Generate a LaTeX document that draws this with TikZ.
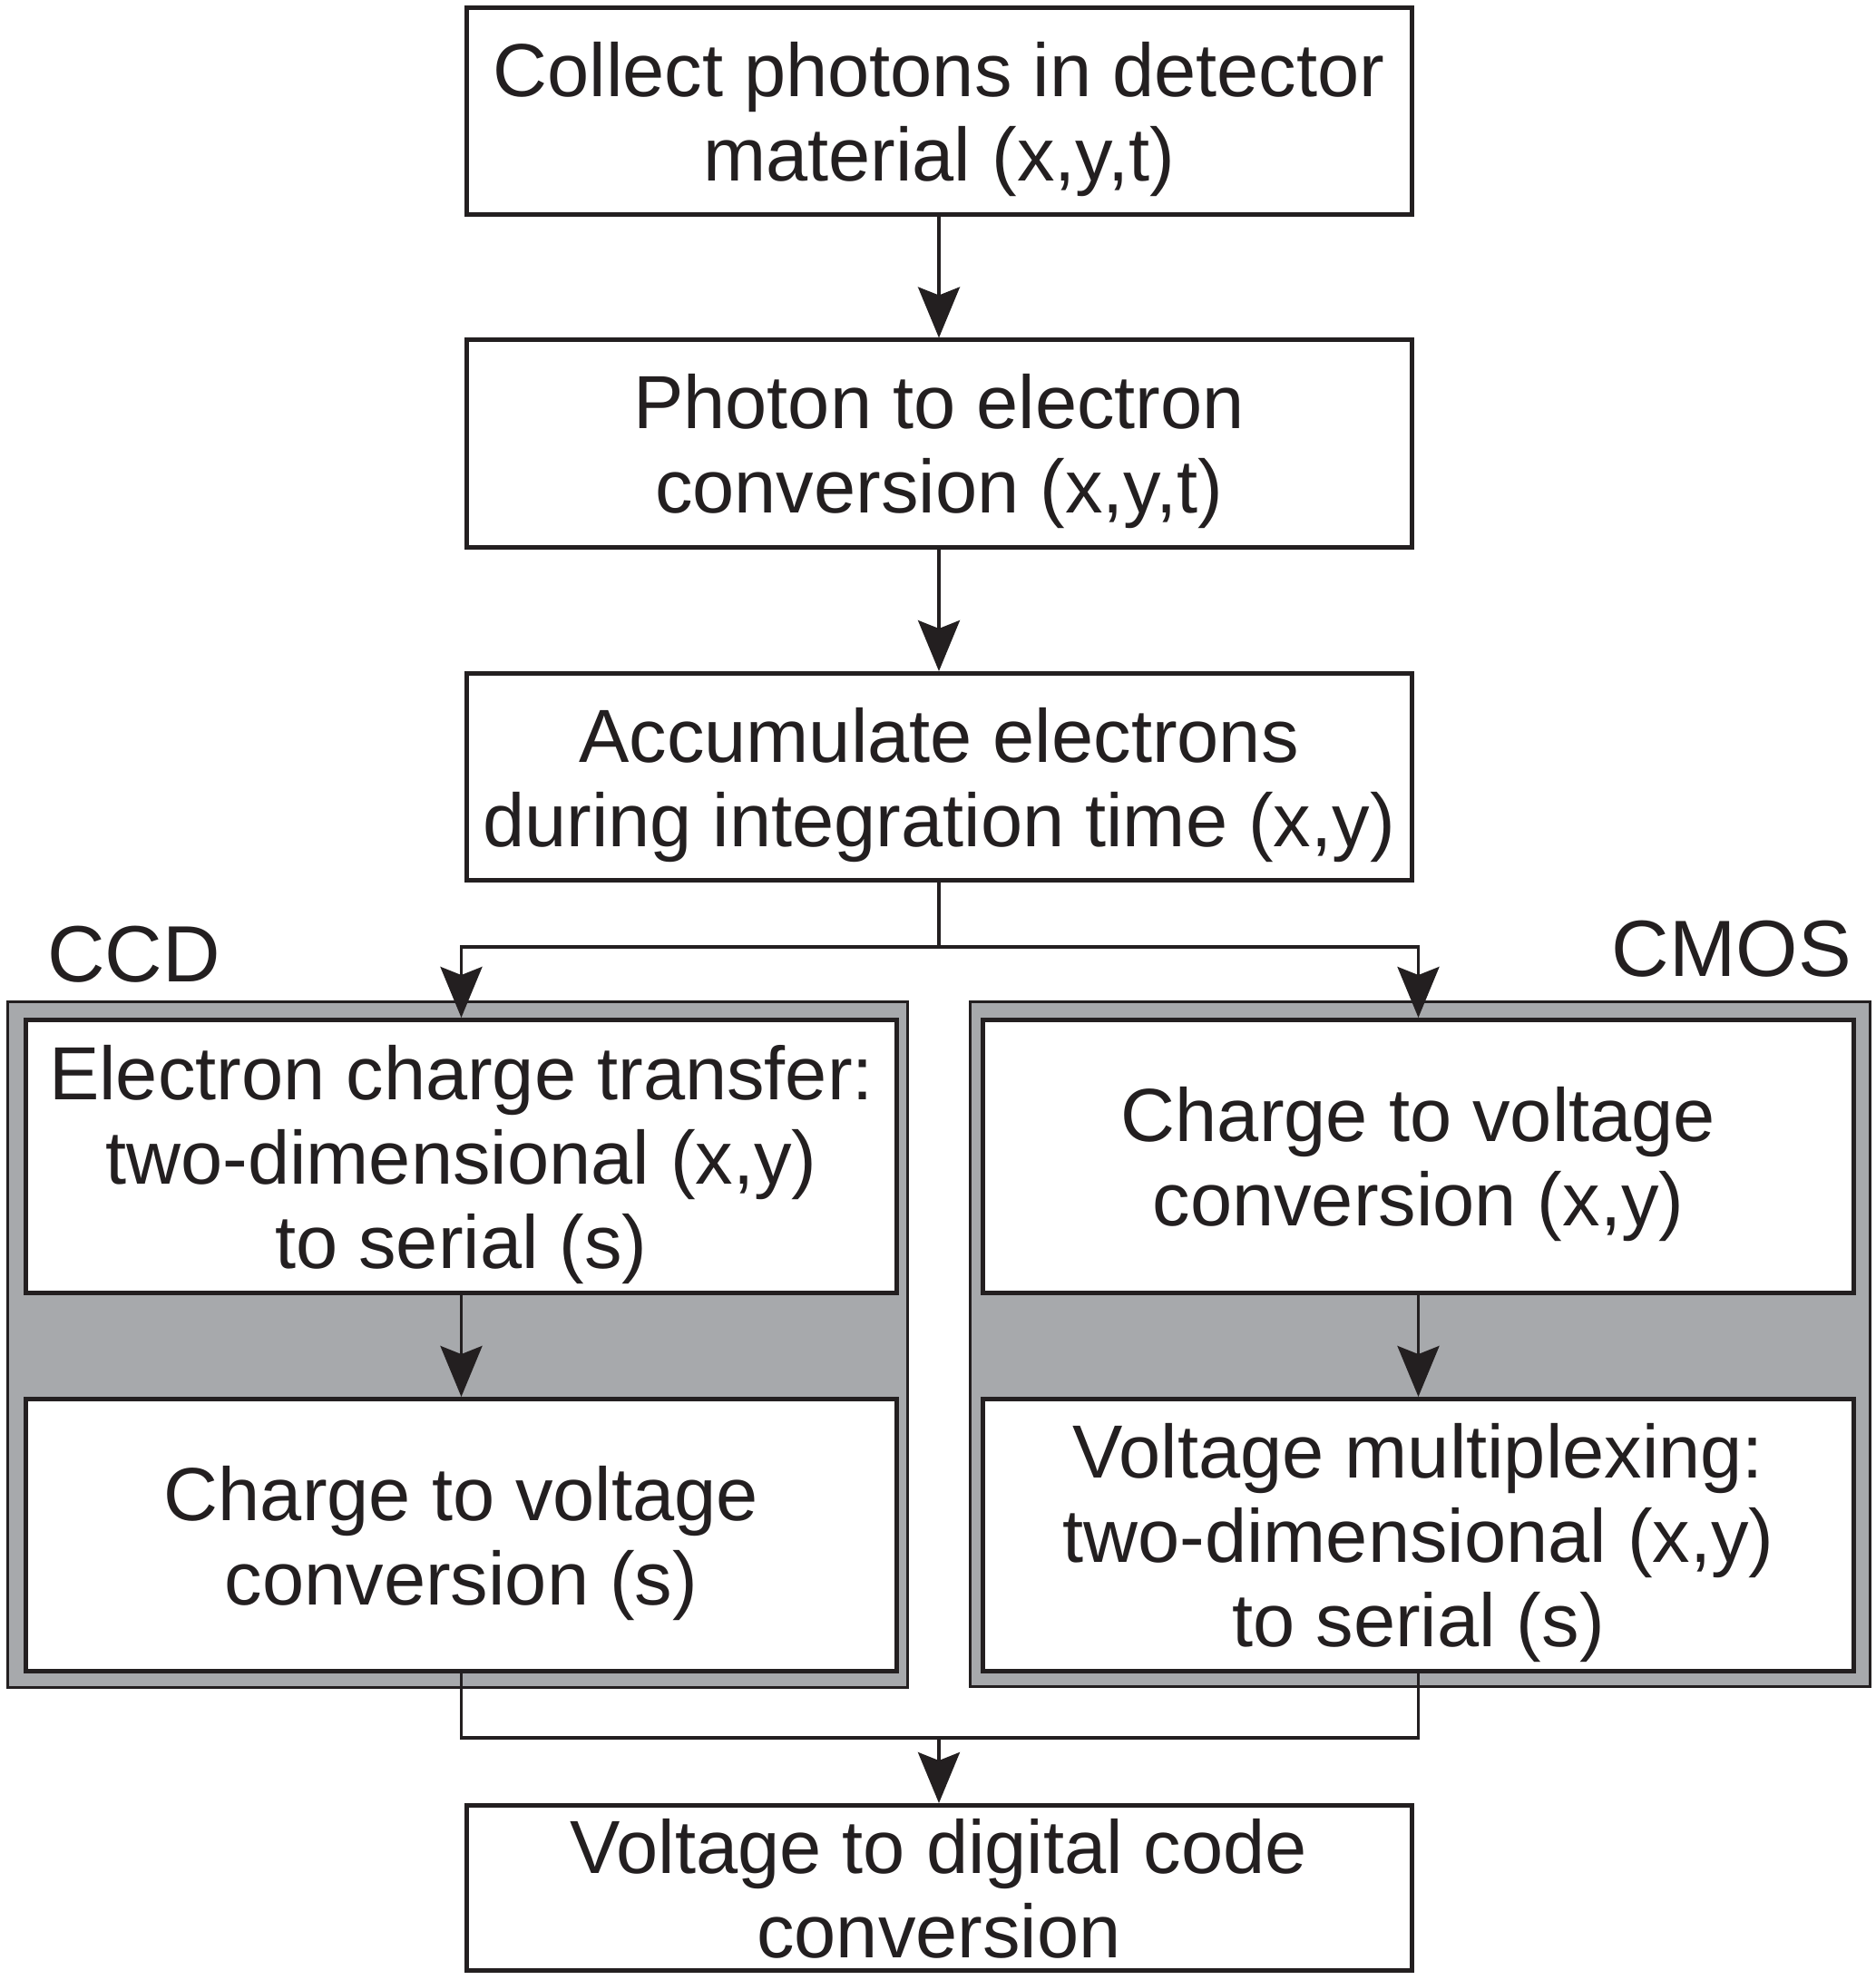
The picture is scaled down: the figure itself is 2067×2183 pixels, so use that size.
\documentclass[tikz,border=0pt]{standalone}
\usepackage{fontspec}
\setmainfont{Liberation Sans}
\usetikzlibrary{arrows.meta}
\definecolor{panelgray}{HTML}{A7A9AC}
\definecolor{ink}{HTML}{231F20}
\begin{document}
\begin{tikzpicture}[x=1bp,y=-1bp,
  box/.style={draw=ink, line width=5bp, fill=white, align=center, inner sep=0pt,
    font=\fontsize{83bp}{93bp}\selectfont, text=ink, text depth=0pt},
  panel/.style={draw=ink, line width=3bp, fill=panelgray, inner sep=0pt},
  conn/.style={draw=ink, line width=3.5bp},
  arr/.style={conn, -{Stealth[length=56bp,width=46bp,inset=9bp]}},
  lbl/.style={font=\fontsize{88bp}{100bp}\selectfont, text=ink, inner sep=0pt}]
\fill[white] (0,0) rectangle (2067,2183);
\useasboundingbox (0,0) rectangle (2067,2183);

% panels
\node[panel, minimum width=992bp, minimum height=756bp] (ccdpanel) at (504.5,1482.5) {};
\node[panel, minimum width=992bp, minimum height=755bp] (cmospanel) at (1565.5,1482) {};

% main boxes
\node[box, minimum width=1042bp, minimum height=228bp] (b1) at (1035,122.5)
  {Collect photons in detector\\material (x,y,t)};
\node[box, minimum width=1042bp, minimum height=228bp] (b2) at (1035,489)
  {Photon to electron\\conversion (x,y,t)};
\node[box, minimum width=1042bp, minimum height=228bp] (b3) at (1035,856.5)
  {Accumulate electrons\\during integration time (x,y)};

% inner boxes
\node[box, minimum width=960bp, minimum height=301bp] (ccd1) at (508.5,1275)
  {Electron charge transfer:\\two-dimensional (x,y)\\to serial (s)};
\node[box, minimum width=960bp, minimum height=300bp] (ccd2) at (508.5,1692.5)
  {Charge to voltage\\conversion (s)};
\node[box, minimum width=960bp, minimum height=301bp] (cmos1) at (1563.5,1275)
  {Charge to voltage\\conversion (x,y)};
\node[box, minimum width=960bp, minimum height=300bp] (cmos2) at (1563.5,1692.5)
  {Voltage multiplexing:\\two-dimensional (x,y)\\to serial (s)};

% bottom box
\node[box, minimum width=1042bp, minimum height=182bp] (b4) at (1035,2081.5)
  {Voltage to digital code\\conversion};

% labels
\node[lbl, anchor=base west] (ccdlabel) at (52,1082) {CCD};
\node[lbl, anchor=base east] (cmoslabel) at (2041,1076) {CMOS};

% connectors
\coordinate (split) at (1035,1044);
\coordinate (merge) at (1035,1916);
\draw[arr] (b1) -- (b2);
\draw[arr] (b2) -- (b3);
\draw[arr] (b3.south) -- (split) -| (ccd1.north);
\draw[arr] (split) -| (cmos1.north);
\draw[arr] (ccd1) -- (ccd2);
\draw[arr] (cmos1) -- (cmos2);
\draw[conn] (ccd2.south) |- (merge) -| (cmos2.south);
\draw[arr] (merge) -- (b4);
\end{tikzpicture}
\end{document}
